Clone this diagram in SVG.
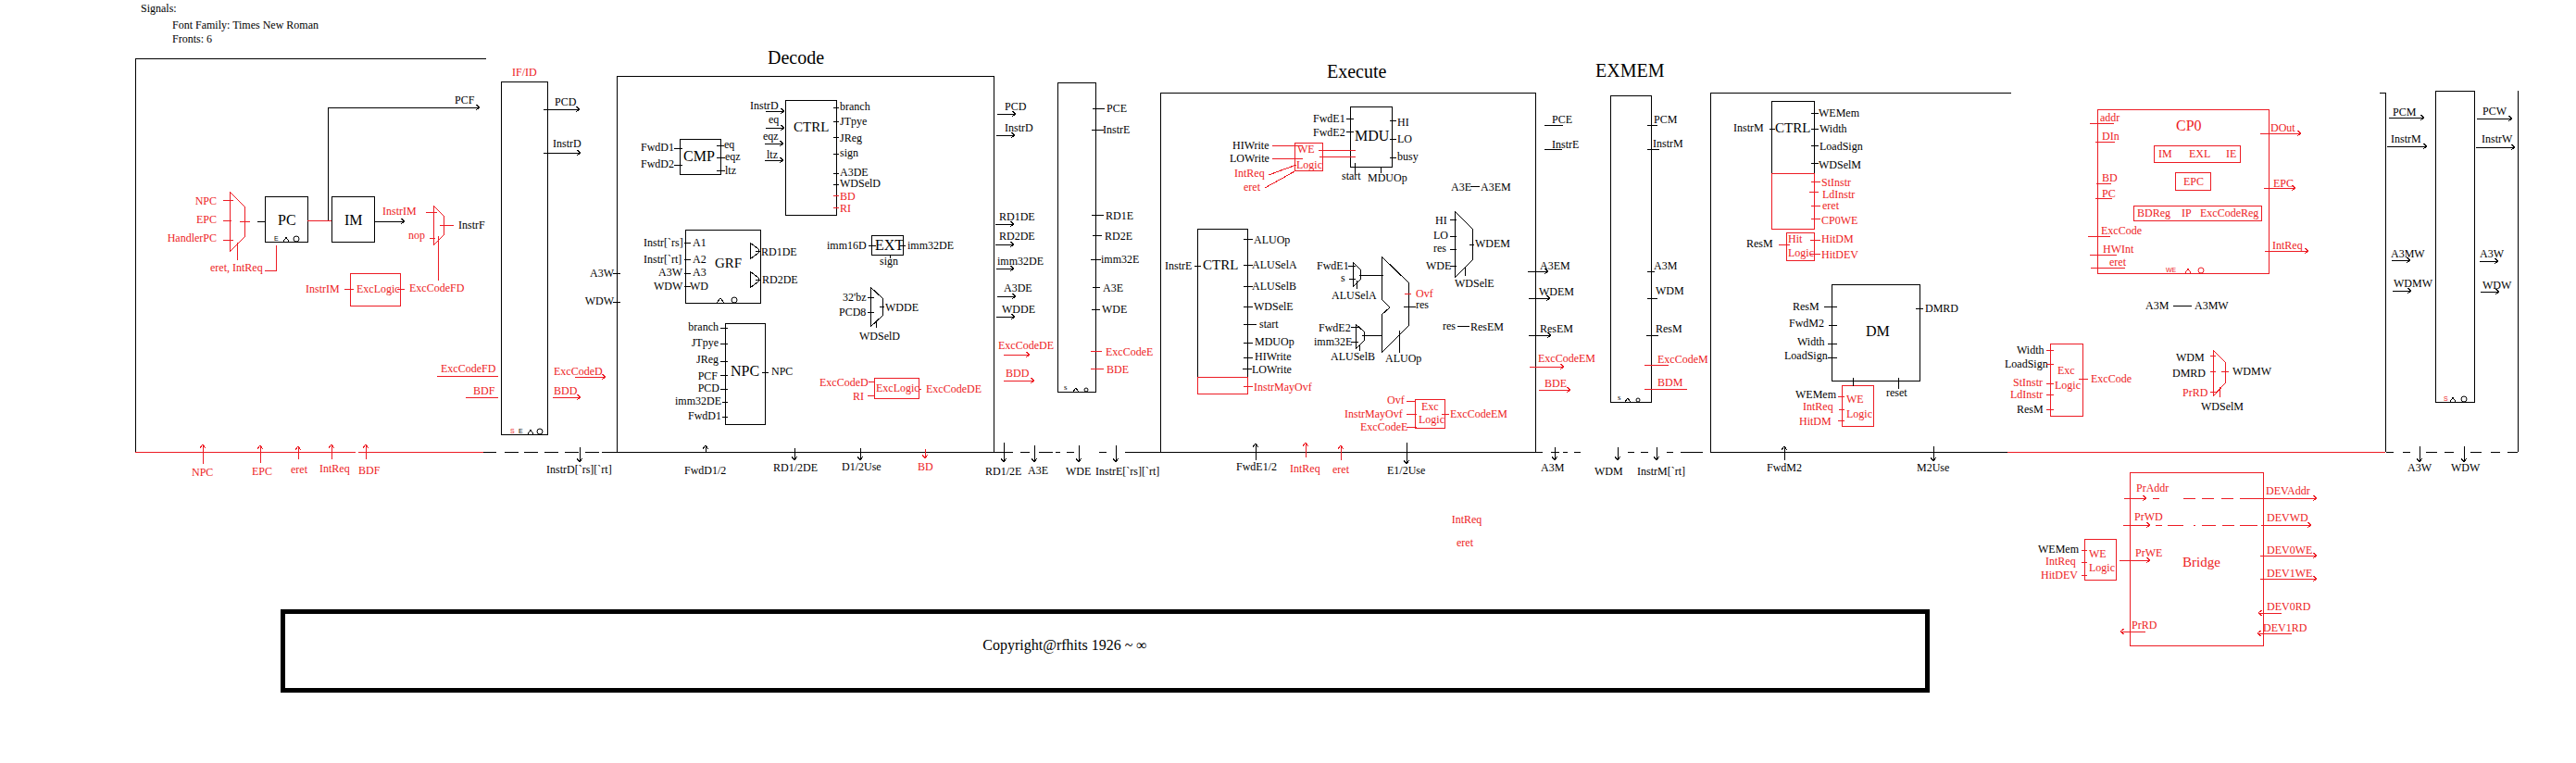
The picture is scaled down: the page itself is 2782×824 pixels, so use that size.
<svg xmlns="http://www.w3.org/2000/svg" width="2782" height="824" viewBox="0 0 2782 824">
<style>
text{font-family:"Liberation Serif","Times New Roman",serif;font-size:12px;fill:#000}
.R{fill:#ed1c24}
.E{text-anchor:end}
.M{text-anchor:middle}
.H{font-size:16px}
.T{font-size:20px}
.S{font-size:7px;font-family:"Liberation Sans",Arial,sans-serif}
rect,path,circle{fill:none;stroke:#000;stroke-width:1;shape-rendering:crispEdges}
.r{stroke:#ed1c24}
.a{marker-end:url(#ak)}
.ar{stroke:#ed1c24;marker-end:url(#ar)}
.big{stroke-width:5}
circle{shape-rendering:auto}
</style>
<defs>
<marker id="ak" markerUnits="userSpaceOnUse" markerWidth="10" markerHeight="10" refX="6" refY="5" orient="auto"><path d="M2,2 L6,5 L2,8"/></marker>
<marker id="ar" markerUnits="userSpaceOnUse" markerWidth="10" markerHeight="10" refX="6" refY="5" orient="auto"><path class="r" d="M2,2 L6,5 L2,8"/></marker>
</defs>
<rect width="2782" height="824" style="fill:#fff;stroke:none"/>
<g id="header"><text x="152" y="13">Signals:</text><text x="186" y="31">Font Family: Times New Roman</text><text x="186" y="46">Fronts: 6</text>
<text class="T" x="829" y="69">Decode</text><text class="T" x="1433" y="84">Execute</text><text class="T" x="1723" y="83">EXMEM</text></g>

<g id="frames">
<path d="M525,63H146V488"/><path class="r" d="M146,488H384M387,488H522"/>
<path d="M666,488V82H1073V488"/>
<path d="M1253,488V100H1658V488"/>
<path d="M2172,100H1847V488"/>
<path d="M2570,100H2576V488M2719,98V488"/>
<path d="M522,488H536M545,488H560M566,488H581M588,488H603M610,488H625M632,488H647M650,488H1083M1079,488H1094"/>
<path d="M1102,488H1112M1122,488H1137M1140,488H1145M1152,488H1160M1187,488H1195M1215,488H1666M1675,488H1684M1688,488H1693M1700,488H1707M1758,488H1765M1772,488H1780M1800,488H1807M1815,488H1839M1847,488H2168"/>
<path class="r" d="M2168,488H2576"/>
<path d="M2577,488H2585M2595,488H2603M2620,488H2632M2640,488H2650M2668,488H2680M2690,488H2700M2708,488H2719"/>
</g>

<g id="PC"><rect x="286" y="212" width="46" height="49"/><text class="H" x="300" y="243">PC</text><text class="S" x="296" y="260">E</text><path d="M306,261l3,-5l3,5"/><circle cx="320" cy="258" r="3"/></g>
<g id="IM"><rect x="358" y="212" width="46" height="49"/><text class="H" x="372" y="243">IM</text></g>
<g id="mux-pc"><path class="r" d="M248,207L264,223V256L248,272Z"/><text class="R E" x="234" y="221">NPC</text><text class="R E" x="234" y="241">EPC</text><text class="R E" x="234" y="261">HandlerPC</text><text class="R" x="227" y="293">eret, IntReq</text></g>
<g id="mux-instrf"><path class="r" d="M468,222L479,233V254L468,265Z"/><text class="R" x="413" y="232">InstrIM</text><text class="R" x="441" y="258">nop</text><text x="495" y="247">InstrF</text></g>
<g id="exc-f"><rect class="r" x="378" y="295" width="54" height="35"/><text class="R" x="385" y="316">ExcLogic</text><text class="R" x="330" y="316">InstrIM</text><text class="R" x="442" y="315">ExcCodeFD</text></g>
<g id="IFID"><rect x="541" y="88" width="50" height="381"/><text class="R" x="553" y="82">IF/ID</text><text class="S R" x="551" y="468">S</text><text class="S" x="560" y="468">E</text><path d="M570,469l3,-5l3,5"/><circle cx="583" cy="466" r="3"/>
<text x="491" y="112">PCF</text><text x="599" y="114">PCD</text><text x="597" y="159">InstrD</text><text class="R" x="476" y="402">ExcCodeFD</text><text class="R" x="511" y="426">BDF</text><text class="R" x="598" y="405">ExcCodeD</text><text class="R" x="598" y="426">BDD</text></g>

<g id="labels-bottom">
<text class="R" x="207" y="514">NPC</text><text class="R" x="272" y="513">EPC</text><text class="R" x="314" y="511">eret</text><text class="R" x="345" y="510">IntReq</text><text class="R" x="387" y="512">BDF</text><text x="590" y="511">InstrD[`rs][`rt]</text>
<text x="739" y="512">FwdD1/2</text><text x="835" y="509">RD1/2DE</text><text x="909" y="508">D1/2Use</text><text class="R" x="991" y="508">BD</text><text x="1064" y="513">RD1/2E</text><text x="1110" y="512">A3E</text><text x="1151" y="513">WDE</text><text x="1183" y="513">InstrE[`rs][`rt]</text>
<text x="1335" y="508">FwdE1/2</text><text class="R" x="1393" y="510">IntReq</text><text class="R" x="1439" y="511">eret</text><text x="1498" y="512">E1/2Use</text><text x="1664" y="509">A3M</text><text x="1722" y="513">WDM</text><text x="1768" y="513">InstrM[`rt]</text><text x="1908" y="509">FwdM2</text><text x="2070" y="509">M2Use</text><text x="2600" y="509">A3W</text><text x="2647" y="509">WDW</text>
<text class="R M" x="1584" y="565">IntReq</text><text class="R M" x="1582" y="590">eret</text>
</g>

<g id="CTRL-D"><rect x="848" y="108" width="55" height="124"/><text class="H" x="857" y="142" style="font-size:15px">CTRL</text>
<text x="810" y="118">InstrD</text><text x="830" y="133">eq</text><text x="824" y="151">eqz</text><text x="828" y="171">ltz</text>
<text x="907" y="119">branch</text><text x="907" y="135">JTpye</text><text x="907" y="153">JReg</text><text x="907" y="169">sign</text><text x="907" y="190">A3DE</text><text x="907" y="202">WDSelD</text><text class="R" x="907" y="216">BD</text><text class="R" x="907" y="229">RI</text></g>
<g id="CMP"><rect x="734" y="150" width="44" height="38"/><text class="H" x="738" y="174">CMP</text><text x="692" y="163">FwdD1</text><text x="692" y="181">FwdD2</text><text x="782" y="160">eq</text><text x="783" y="173">eqz</text><text x="783" y="188">ltz</text></g>
<g id="GRF"><rect x="740" y="248" width="81" height="79"/><text class="H" x="772" y="289" style="font-size:15px">GRF</text><path d="M810,262L819,269V273L810,280ZM810,293L819,300V304L810,311Z"/><path d="M774,327l4,-5l4,5"/><circle cx="793" cy="324" r="3"/>
<text x="748" y="266">A1</text><text x="748" y="284">A2</text><text x="748" y="298">A3</text><text x="745" y="313">WD</text><text x="695" y="266">Instr[`rs]</text><text x="695" y="284">Instr[`rt]</text><text x="711" y="298">A3W</text><text x="706" y="313">WDW</text><text x="822" y="276">RD1DE</text><text x="823" y="306">RD2DE</text>
<text class="E" x="663" y="299">A3W</text><text class="E" x="663" y="329">WDW</text></g>
<g id="NPC"><rect x="783" y="349" width="43" height="109"/><text class="H" x="789" y="406">NPC</text><text class="E" x="776" y="357">branch</text><text class="E" x="776" y="374">JTpye</text><text class="E" x="776" y="392">JReg</text><text class="E" x="775" y="410">PCF</text><text class="E" x="777" y="423">PCD</text><text class="E" x="779" y="437">imm32DE</text><text class="E" x="779" y="453">FwdD1</text><text x="833" y="405">NPC</text></g>
<g id="EXT"><rect x="941" y="254" width="34" height="21"/><text class="H" x="945" y="270">EXT</text><text x="893" y="269">imm16D</text><text x="980" y="269">imm32DE</text><text x="950" y="286">sign</text></g>
<g id="mux-wdde"><path d="M940,310L953,322V341L940,353Z"/><text x="910" y="325">32'bz</text><text x="906" y="341">PCD8</text><text x="956" y="336">WDDE</text><text x="928" y="367">WDSelD</text></g>
<g id="exc-d"><rect class="r" x="944" y="408" width="48" height="22"/><text class="R" x="946" y="423">ExcLogic</text><text class="R" x="885" y="417">ExcCodeD</text><text class="R" x="921" y="432">RI</text><text class="R" x="1000" y="424">ExcCodeDE</text></g>

<g id="IDEX"><rect x="1142" y="89" width="41" height="334"/><text x="1149" y="421" style="font-size:9px">s</text><path d="M1159,423l3,-4l3,4"/><circle cx="1173" cy="421" r="2"/>
<text x="1085" y="119">PCD</text><text x="1085" y="142">InstrD</text><text x="1079" y="238">RD1DE</text><text x="1079" y="259">RD2DE</text><text x="1077" y="286">imm32DE</text><text x="1084" y="315">A3DE</text><text x="1082" y="338">WDDE</text><text class="R" x="1078" y="377">ExcCodeDE</text><text class="R" x="1086" y="407">BDD</text>
<text x="1195" y="121">PCE</text><text x="1191" y="144">InstrE</text><text x="1194" y="237">RD1E</text><text x="1193" y="259">RD2E</text><text x="1189" y="284">imm32E</text><text x="1191" y="315">A3E</text><text x="1190" y="338">WDE</text><text class="R" x="1194" y="384">ExcCodeE</text><text class="R" x="1195" y="403">BDE</text></g>
<g id="MDU"><rect x="1458" y="115" width="45" height="65"/><text class="H" x="1463" y="152">MDU</text><text x="1418" y="132">FwdE1</text><text x="1418" y="147">FwdE2</text><text x="1509" y="136">HI</text><text x="1509" y="154">LO</text><text x="1509" y="173">busy</text><text x="1449" y="194">start</text><text x="1477" y="196">MDUOp</text></g>
<g id="we-e"><rect class="r" x="1398" y="154" width="30" height="30"/><text class="R" x="1401" y="165">WE</text><text class="R" x="1400" y="182">Logic</text><text x="1331" y="161">HIWrite</text><text x="1328" y="175">LOWrite</text><text class="R" x="1333" y="191">IntReq</text><text class="R" x="1343" y="206">eret</text></g>
<g id="CTRL-E"><rect x="1293" y="247" width="54" height="160"/><rect class="r" x="1293" y="407" width="54" height="18"/><text class="H" x="1299" y="291" style="font-size:15px">CTRL</text><text x="1258" y="291">InstrE</text>
<text x="1354" y="263">ALUOp</text><text x="1352" y="290">ALUSelA</text><text x="1352" y="313">ALUSelB</text><text x="1354" y="335">WDSelE</text><text x="1360" y="354">start</text><text x="1355" y="373">MDUOp</text><text x="1355" y="389">HIWrite</text><text x="1352" y="403">LOWrite</text><text class="R" x="1354" y="422">InstrMayOvf</text></g>
<g id="ALU"><path d="M1492,277L1521,305V352L1492,381V340L1501,332L1492,323Z"/><text class="R" x="1529" y="321">Ovf</text><text x="1529" y="333">res</text><text x="1496" y="391">ALUOp</text></g>
<g id="mux-a"><path d="M1461,283L1469,291V302L1461,310Z"/><text x="1422" y="291">FwdE1</text><text x="1448" y="304">s</text><text x="1438" y="323">ALUSelA</text></g>
<g id="mux-b"><path d="M1464,350L1473,358V368L1464,377Z"/><text x="1424" y="358">FwdE2</text><text x="1419" y="373">imm32E</text><text x="1437" y="389">ALUSelB</text></g>
<g id="mux-wdem"><path d="M1571,228L1590,247V281L1571,300Z"/><text x="1550" y="242">HI</text><text x="1548" y="258">LO</text><text x="1548" y="272">res</text><text x="1540" y="291">WDE</text><text x="1593" y="267">WDEM</text><text x="1571" y="310">WDSelE</text></g>
<g id="pass-e"><text x="1567" y="206">A3E</text><text x="1599" y="206">A3EM</text><text x="1558" y="356">res</text><text x="1588" y="357">ResEM</text></g>
<g id="exc-e"><rect class="r" x="1528" y="431" width="32" height="31"/><text class="R" x="1535" y="443">Exc</text><text class="R" x="1532" y="457">Logic</text><text class="R" x="1498" y="436">Ovf</text><text class="R" x="1452" y="451">InstrMayOvf</text><text class="R" x="1469" y="465">ExcCodeE</text><text class="R" x="1566" y="451">ExcCodeEM</text></g>

<g id="EXMEM"><rect x="1739" y="103" width="44" height="331"/><text x="1747" y="432" style="font-size:9px">s</text><path d="M1755,434l3,-4l3,4"/><circle cx="1769" cy="432" r="2"/>
<text x="1676" y="133">PCE</text><text x="1676" y="160">InstrE</text><text x="1663" y="291">A3EM</text><text x="1662" y="319">WDEM</text><text x="1663" y="359">ResEM</text><text class="R" x="1661" y="391">ExcCodeEM</text><text class="R" x="1668" y="418">BDE</text>
<text x="1786" y="133">PCM</text><text x="1785" y="159">InstrM</text><text x="1786" y="291">A3M</text><text x="1788" y="318">WDM</text><text x="1788" y="359">ResM</text><text class="R" x="1790" y="392">ExcCodeM</text><text class="R" x="1790" y="417">BDM</text></g>
<g id="CTRL-M"><rect x="1913" y="109" width="46" height="78"/><rect class="r" x="1913" y="187" width="46" height="60"/><text class="H" x="1917" y="143" style="font-size:15px">CTRL</text><text x="1872" y="142">InstrM</text>
<text x="1964" y="126">WEMem</text><text x="1965" y="143">Width</text><text x="1965" y="162">LoadSign</text><text x="1964" y="182">WDSelM</text><text class="R" x="1967" y="201">StInstr</text><text class="R" x="1968" y="214">LdInstr</text><text class="R" x="1968" y="226">eret</text><text class="R" x="1967" y="242">CP0WE</text></g>
<g id="hit"><rect class="r" x="1929" y="251" width="30" height="30"/><text class="R" x="1931" y="262">Hit</text><text class="R" x="1931" y="277">Logic</text><text x="1886" y="267">ResM</text><text class="R" x="1967" y="262">HitDM</text><text class="R" x="1967" y="279">HitDEV</text></g>
<g id="DM"><rect x="1978" y="307" width="95" height="104"/><text class="H" x="2015" y="363">DM</text><text x="1936" y="335">ResM</text><text x="1932" y="353">FwdM2</text><text x="1941" y="373">Width</text><text x="1927" y="388">LoadSign</text><text x="2079" y="337">DMRD</text><text x="2037" y="428">reset</text></g>
<g id="we-m"><rect class="r" x="1989" y="416" width="34" height="44"/><text class="R" x="1994" y="435">WE</text><text class="R" x="1994" y="451">Logic</text><text x="1939" y="430">WEMem</text><text class="R" x="1947" y="443">IntReq</text><text class="R" x="1943" y="459">HitDM</text></g>
<g id="exc-m"><rect class="r" x="2214" y="371" width="35" height="78"/><text class="R" x="2222" y="404">Exc</text><text class="R" x="2219" y="420">Logic</text><text x="2178" y="382">Width</text><text x="2165" y="397">LoadSign</text><text class="R" x="2174" y="417">StInstr</text><text class="R" x="2171" y="430">LdInstr</text><text x="2178" y="446">ResM</text><text class="R" x="2258" y="413">ExcCode</text></g>
<g id="CP0"><rect class="r" x="2265" y="118" width="185" height="177"/><text class="H R" x="2350" y="141">CP0</text>
<text class="R" x="2268" y="131">addr</text><text class="R" x="2270" y="151">DIn</text><text class="R" x="2270" y="196">BD</text><text class="R" x="2270" y="213">PC</text><text class="R" x="2269" y="253">ExcCode</text><text class="R" x="2271" y="273">HWInt</text><text class="R" x="2278" y="287">eret</text>
<rect class="r" x="2326" y="157" width="93" height="18"/><text class="R" x="2331" y="170">IM</text><text class="R" x="2364" y="170">EXL</text><text class="R" x="2404" y="170">IE</text>
<rect class="r" x="2349" y="186" width="38" height="19"/><text class="R" x="2358" y="200">EPC</text>
<rect class="r" x="2304" y="222" width="138" height="16"/><text class="R" x="2308" y="234">BDReg</text><text class="R" x="2356" y="234">IP</text><text class="R" x="2376" y="234">ExcCodeReg</text>
<text class="R" x="2452" y="142">DOut</text><text class="R" x="2455" y="202">EPC</text><text class="R" x="2454" y="269">IntReq</text>
<text class="S R" x="2339" y="294">WE</text><path class="r" d="M2360,295l3,-5l3,5"/><circle class="r" cx="2377" cy="292" r="3"/></g>
<g id="pass-m"><text x="2317" y="334">A3M</text><text x="2370" y="334">A3MW</text></g>
<g id="mux-wdmw"><path class="r" d="M2390,378L2403,391V414L2390,428Z"/><text x="2350" y="390">WDM</text><text x="2346" y="407">DMRD</text><text class="R" x="2357" y="428">PrRD</text><text x="2411" y="405">WDMW</text><text x="2377" y="443">WDSelM</text></g>
<g id="MEMWB"><rect x="2630" y="98" width="42" height="336"/><text class="S R" x="2639" y="433">S</text><path d="M2646,434l3,-5l3,5"/><circle cx="2661" cy="431" r="3"/>
<text x="2584" y="125">PCM</text><text x="2582" y="154">InstrM</text><text x="2582" y="278">A3MW</text><text x="2585" y="310">WDMW</text><text x="2681" y="124">PCW</text><text x="2680" y="154">InstrW</text><text x="2678" y="278">A3W</text><text x="2681" y="312">WDW</text></g>
<g id="Bridge"><rect class="r" x="2300" y="510" width="144" height="187"/><text class="H R" x="2357" y="612" style="font-size:15px">Bridge</text>
<text class="R" x="2307" y="531">PrAddr</text><text class="R" x="2305" y="562">PrWD</text><text class="R" x="2306" y="601">PrWE</text><text class="R" x="2302" y="679">PrRD</text>
<text class="R" x="2447" y="534">DEVAddr</text><text class="R" x="2448" y="563">DEVWD</text><text class="R" x="2448" y="598">DEV0WE</text><text class="R" x="2448" y="623">DEV1WE</text><text class="R" x="2448" y="659">DEV0RD</text><text class="R" x="2444" y="682">DEV1RD</text></g>
<g id="we-b"><rect class="r" x="2251" y="582" width="34" height="44"/><text class="R" x="2256" y="602">WE</text><text class="R" x="2256" y="617">Logic</text><text x="2201" y="597">WEMem</text><text class="R" x="2209" y="610">IntReq</text><text class="R" x="2204" y="625">HitDEV</text></g>
<g id="copyright"><rect class="big" x="305" y="660" width="1776" height="85"/><text class="H M" x="1150" y="702">Copyright@rfhits 1926 ~ ∞</text></g>

<g id="connectors">
<path class="a" d="M354,238V116H518"/><path class="r" d="M332,238H358"/>
<path class="r" d="M241,216H252M241,238H250M241,259H252M259,239H270M256,262V281M286,292H298V265"/><path d="M278,239H286"/>
<path class="a" d="M404,239H437"/>
<path class="r" d="M460,229H472M464,257H470M475,243H490M473,255V303M372,312H382M429,312H437"/>
<path class="a" d="M587,118H626"/><path class="a" d="M587,165H627"/>
<path class="r" d="M472,406H538M503,429H538"/><path class="ar" d="M621,407H654"/><path class="ar" d="M597,429H627"/>
<path class="ar" d="M219,501V480"/><path class="ar" d="M281,500V481"/><path class="ar" d="M322,496V482"/><path class="ar" d="M358,496V480"/><path class="ar" d="M395,496V480"/>
<path class="a" d="M626,483V499"/><path d="M662,295H670M662,326H670"/>
<path class="a" d="M827,120H847"/><path class="a" d="M827,138H847"/><path class="a" d="M826,155H846"/><path class="a" d="M826,173H846"/>
<path d="M900,116H906M900,131H906M900,148H906M900,166H906M900,187H906M900,199H906"/><path class="r" d="M900,211H906M900,224H906"/>
<path d="M728,160H737M728,178H737M774,157H782M774,170H783M774,184H783"/>
<path d="M739,262H746M739,280H746M739,295H746M739,309H746M816,271H821M816,302H821"/>
<path d="M778,354H786M778,371H786M778,390H786M778,405H786M778,420H786M780,434H786M780,450H786M823,402H830"/>
<path d="M938,265H946M972,265H978M961,275V279M937,321H944M937,337H944M950,331H955M946,347V354"/>
<path class="r" d="M938,412H944M937,427H944M992,420H995"/>
<path class="a" d="M762,488V481"/><path class="a" d="M858,484V497"/><path class="a" d="M929,484V497"/><path class="ar" d="M999,485V495"/><path class="a" d="M1084,478V499"/><path class="a" d="M1117,481V499"/><path class="a" d="M1165,481V499"/><path class="a" d="M1205,481V499"/>
<path class="a" d="M1077,123H1097"/><path class="a" d="M1076,146H1096"/><path class="a" d="M1075,242H1095"/><path class="a" d="M1075,264H1095"/><path class="a" d="M1076,290H1095"/><path class="a" d="M1077,320H1097"/><path class="a" d="M1076,342H1096"/><path class="ar" d="M1084,383H1112"/><path class="ar" d="M1084,411H1117"/>
<path d="M1180,117H1193M1179,140H1192M1179,232H1192M1180,254H1190M1178,280H1189M1180,310H1188M1179,334H1188"/><path class="r" d="M1178,379H1190M1178,398H1192"/>
<path d="M1454,128H1462M1454,142H1462M1501,130H1508M1501,150H1508M1501,170H1508M1491,180V187M1463,176V188"/>
<path class="r" d="M1374,157H1407M1374,171H1407M1370,189L1400,178M1366,203L1400,184M1424,162H1464M1425,169H1464"/>
<path d="M1290,287H1297M1343,258H1353M1343,286H1353M1343,309H1353M1343,331H1353M1343,350H1357M1343,370H1353M1343,386H1353M1342,398H1352"/><path class="r" d="M1343,417H1353"/>
<path d="M1456,287H1464M1457,301H1464M1468,297H1494M1465,303V312M1459,353H1467M1459,369H1467M1471,362H1493M1468,372V379"/>
<path class="r" d="M1517,317H1524"/><path d="M1516,331H1529M1511,357V381"/>
<path d="M1566,237H1573M1566,255H1573M1566,269H1573M1566,287H1573M1587,264H1592M1582,288V298M1588,201H1598M1574,352H1587"/>
<path class="r" d="M1519,433H1528M1519,447H1530M1519,461H1530M1557,447H1565"/>
<path class="a" d="M1519,478V501"/><path class="a" d="M1356,497V479"/><path class="ar" d="M1410,494V478"/><path class="ar" d="M1448,497V481"/>
<path d="M1668,135H1688M1668,161H1687"/><path class="a" d="M1650,293H1672"/><path class="a" d="M1651,322H1674"/><path class="a" d="M1651,362H1675"/><path class="ar" d="M1652,396H1689"/><path class="ar" d="M1662,421H1696"/>
<path d="M1779,135H1790M1779,161H1792M1779,293H1787M1779,322H1790M1778,362H1791"/><path class="r" d="M1776,394H1802M1776,420H1822"/>
<path class="a" d="M1679,483V497"/><path class="a" d="M1747,483V497"/><path class="a" d="M1789,483V497"/><path class="a" d="M1927,497V482"/><path class="a" d="M2088,482V498"/>
<path d="M1911,139H1917M1956,122H1964M1956,139H1964M1956,157H1964M1956,176H1964"/><path class="r" d="M1956,196H1966M1954,207H1964M1956,222H1966M1956,236H1966M1921,264H1933M1955,259H1966M1955,274H1966"/>
<path d="M1970,331H1984M1975,351H1984M1974,371H1984M1974,386H1984M2069,333H2077M2050,408V420M2001,408V417"/>
<path class="r" d="M1985,428H1992M1986,442H1992M1985,454H1992M2210,378H2218M2210,393H2218M2210,414H2218M2210,426H2218M2210,442H2218M2245,409H2255"/>
<path class="r" d="M2257,133H2283M2263,153H2284M2264,198H2280M2263,214H2281M2255,255H2279M2257,275H2286M2258,289H2295"/>
<path class="ar" d="M2441,144H2485"/><path class="ar" d="M2445,203H2479"/><path class="ar" d="M2446,271H2493"/>
<path d="M2347,330H2367"/><path class="r" d="M2387,384H2393M2387,401H2393M2387,423H2393M2399,401H2407M2397,418V429"/>
<path class="a" d="M2580,127H2618"/><path class="a" d="M2578,158H2621"/><path class="a" d="M2583,281H2603"/><path class="a" d="M2584,314H2604"/><path class="a" d="M2675,128H2713"/><path class="a" d="M2674,159H2716"/><path class="a" d="M2678,282H2698"/><path class="a" d="M2679,315H2699"/>
<path class="a" d="M2613,482V499"/><path class="a" d="M2661,482V499"/>
<path class="ar" d="M2294,538H2318"/><path class="r" d="M2325,538H2332M2358,538H2371M2378,538H2391M2399,538H2412M2419,538H2441"/><path class="ar" d="M2440,538H2502"/>
<path class="ar" d="M2293,567H2322"/><path class="r" d="M2328,567H2335M2341,567H2358M2369,567H2371M2378,567H2393M2400,567H2413M2419,567H2438"/><path class="ar" d="M2442,567H2496"/>
<path class="ar" d="M2289,605H2322"/><path class="ar" d="M2441,600H2502"/><path class="ar" d="M2441,625H2502"/><path class="ar" d="M2464,662H2439"/><path class="ar" d="M2475,684H2438"/><path class="ar" d="M2317,682H2290"/>
<path class="r" d="M2248,594H2254M2248,607H2254M2248,621H2254"/>
</g>
</svg>
